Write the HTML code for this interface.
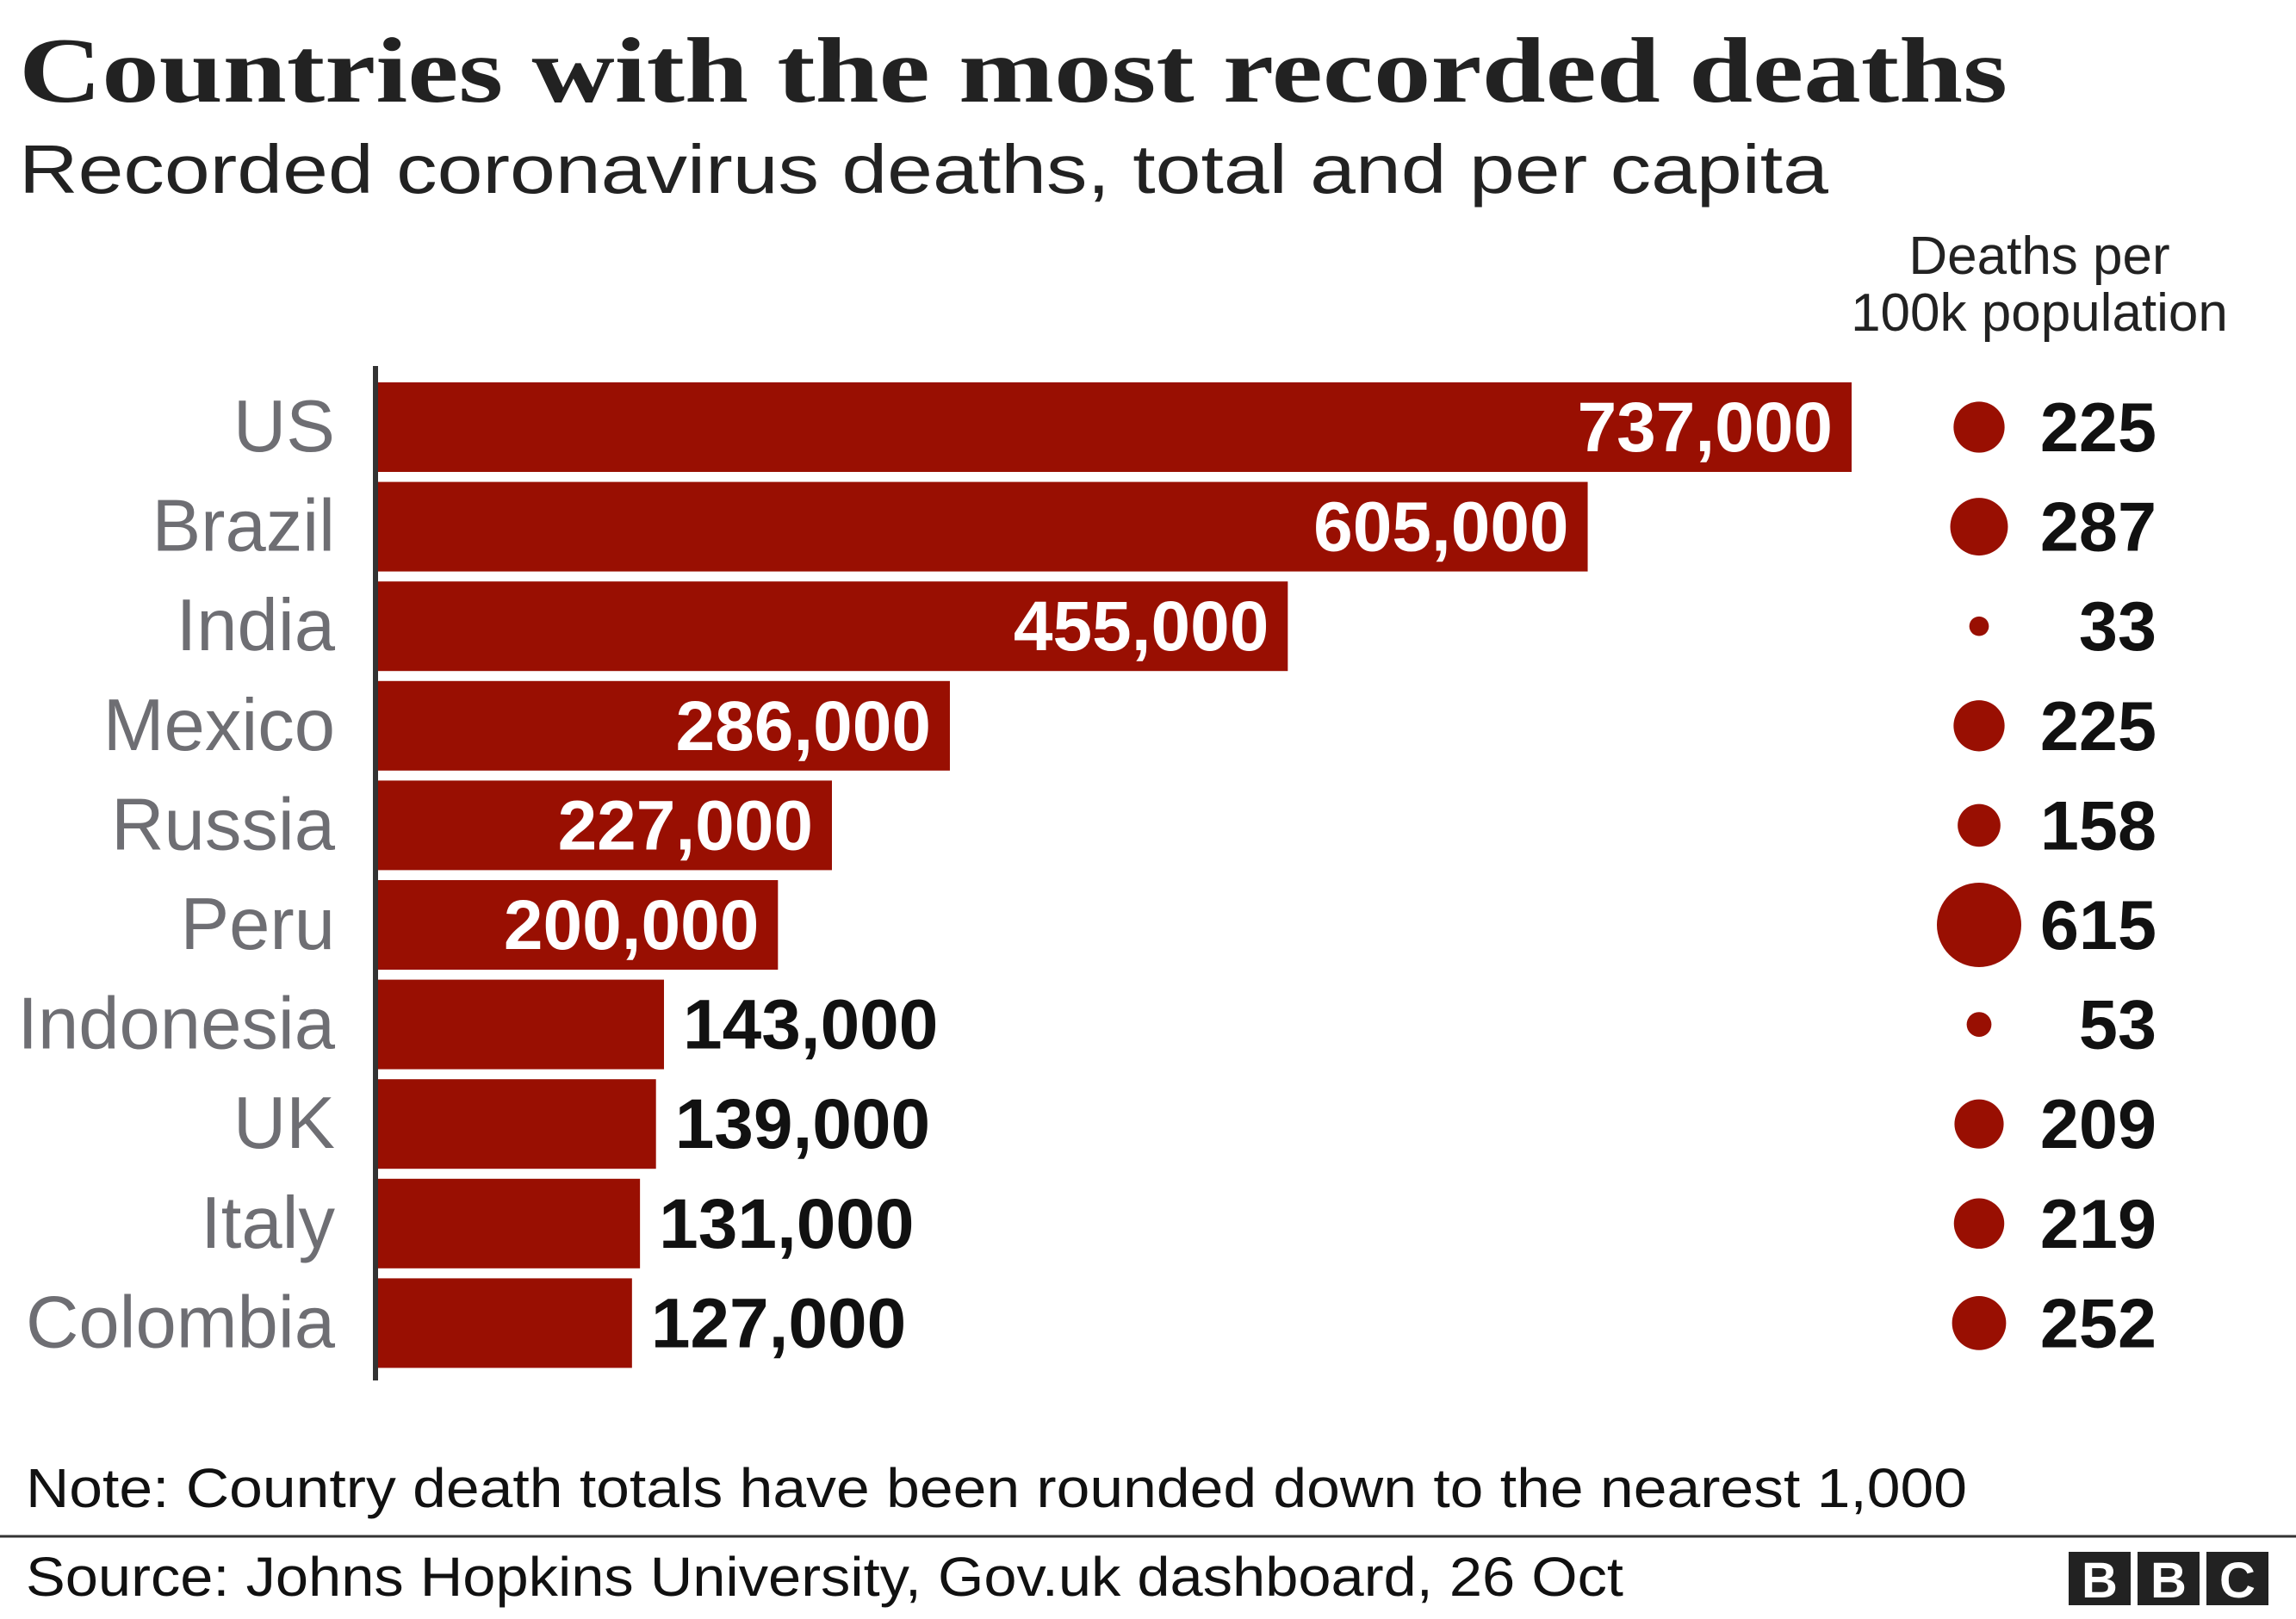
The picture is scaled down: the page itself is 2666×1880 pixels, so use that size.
<!DOCTYPE html>
<html><head><meta charset="utf-8"><style>
body{margin:0;width:2666px;height:1875px;background:#fff;overflow:hidden;font-family:"Liberation Sans",sans-serif;}
</style></head><body>
<svg width="2666" height="1875" xmlns="http://www.w3.org/2000/svg">
<text x="22" y="118" font-family="Liberation Serif, serif" font-weight="bold" font-size="108" fill="#222" textLength="2309" lengthAdjust="spacingAndGlyphs">Countries with the most recorded deaths</text>
<text x="22" y="224" font-size="80" fill="#222" textLength="2101" lengthAdjust="spacingAndGlyphs">Recorded coronavirus deaths, total and per capita</text>
<text x="2368" y="318" font-size="62" fill="#222" text-anchor="middle">Deaths per</text>
<text x="2368" y="384" font-size="62" fill="#222" text-anchor="middle">100k population</text>
<g id="bars"></g>
<line x1="436" y1="425" x2="436" y2="1603" stroke="#333" stroke-width="6"/>
<text x="30" y="1750" font-size="64" fill="#111" textLength="2254" lengthAdjust="spacingAndGlyphs">Note: Country death totals have been rounded down to the nearest 1,000</text>
<line x1="0" y1="1784" x2="2666" y2="1784" stroke="#333" stroke-width="3"/>
<text x="30" y="1853" font-size="64" fill="#111" textLength="1855" lengthAdjust="spacingAndGlyphs">Source: Johns Hopkins University, Gov.uk dashboard, 26 Oct</text>
<g>
<rect x="2402" y="1802" width="72" height="62" fill="#222"/><rect x="2482" y="1802" width="72" height="62" fill="#222"/><rect x="2562" y="1802" width="72" height="62" fill="#222"/>
<text x="2438" y="1855" font-size="58" font-weight="bold" fill="#fff" text-anchor="middle">B</text>
<text x="2518" y="1855" font-size="58" font-weight="bold" fill="#fff" text-anchor="middle">B</text>
<text x="2598" y="1855" font-size="58" font-weight="bold" fill="#fff" text-anchor="middle">C</text>
</g>
</svg>
<script>
const countries=["US","Brazil","India","Mexico","Russia","Peru","Indonesia","UK","Italy","Colombia"];
const deaths=[737000,605000,455000,286000,227000,200000,143000,139000,131000,127000];
const perCapita=[225,287,33,225,158,615,53,209,219,252];
const NS="http://www.w3.org/2000/svg";
const g=document.getElementById("bars");
const x0=439, xScale=v=>v*(2150-x0)/737000;
const yTop=i=>444+i*115.6, bh=104;
const rScale=v=>49*Math.sqrt(v/615);
function mk(t,a){const e=document.createElementNS(NS,t);for(const k in a)e.setAttribute(k,a[k]);g.appendChild(e);return e;}
countries.forEach((c,i)=>{
 const y=yTop(i),w=xScale(deaths[i]),cy=y+bh/2;
 const lab=mk("text",{x:389,y:cy+28,"font-size":85,fill:"#6e6e73","text-anchor":"end"});lab.textContent=c;
 
 
 const r=mk("rect",{x:x0,y:y,width:w,height:bh,fill:"#990f02"});
 
 
 const inside=w>400;
 const v=mk("text",{x:inside?x0+w-22:x0+w+22,y:cy+28,"font-size":82,"font-weight":"bold",fill:inside?"#fff":"#111","text-anchor":inside?"end":"start"});
 v.textContent=deaths[i].toLocaleString("en-US");
 
 
 const ci=mk("circle",{cx:2298,cy:cy,r:rScale(perCapita[i]),fill:"#990f02"});
 
 
 const p=mk("text",{x:2504,y:cy+28,"font-size":81,"font-weight":"bold",fill:"#111","text-anchor":"end"});
 p.textContent=perCapita[i];
 
 
});
</script>
</body></html>
